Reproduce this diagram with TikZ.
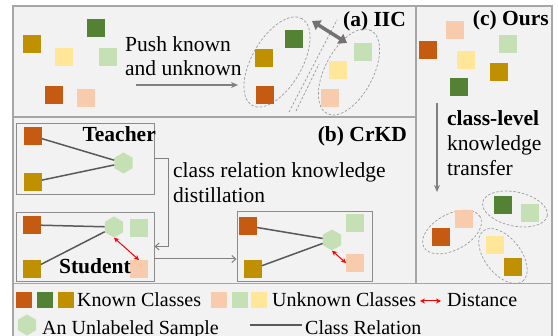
\documentclass[tikz,border=0pt]{standalone}
\usepackage{fontspec}
\setmainfont{Liberation Serif}
\usetikzlibrary{arrows.meta,shapes.geometric,calc}
\definecolor{cDO}{HTML}{C55A11}
\definecolor{cGR}{HTML}{548235}
\definecolor{cDY}{HTML}{BF9000}
\definecolor{cPE}{HTML}{F8CBAD}
\definecolor{cLG}{HTML}{C5E0B4}
\definecolor{cLY}{HTML}{FFE699}
\definecolor{cBG}{HTML}{F2F2F2}
\definecolor{cFR}{HTML}{A6A6A6}
\definecolor{cBX}{HTML}{8C8C8C}
\definecolor{cRL}{HTML}{595959}
\definecolor{cAR}{HTML}{808080}
\definecolor{cTH}{HTML}{767171}
\definecolor{cDS}{HTML}{9A9A9A}
\begin{document}
\begin{tikzpicture}[x=1pt,y=-1pt,
  sq/.style={draw=none,fill=#1,minimum size=17.5pt,inner sep=0pt},
  lsq/.style={sq=#1,minimum size=16.5pt},
  hexa/.style={regular polygon,regular polygon sides=6,shape border rotate=30,
    fill=cLG,draw=none,minimum size=21pt,inner sep=0pt},
  txt/.style={font=\fontsize{21.5}{25}\selectfont,inner sep=0pt},
  btxt/.style={font=\fontsize{21.5}{25}\selectfont\bfseries,inner sep=0pt},
  ltxt/.style={font=\fontsize{20}{24}\selectfont,inner sep=0pt},
  grp/.style={ellipse,draw=cDS,line width=0.7pt,dash pattern=on 2.5pt off 1.8pt,inner sep=0pt},
  sepline/.style={draw=cDS,line width=0.7pt,dash pattern=on 2.5pt off 1.8pt},
  box/.style={draw=cBX,line width=0.9pt,fill=none,inner sep=0pt},
  rel/.style={draw=cRL,line width=1.5pt},
  conn/.style={draw=cAR,line width=1pt,-{Straight Barb[length=4pt,width=7pt]}},
  bigarrow/.style={draw=cAR,line width=1.2pt,-{Stealth[length=7pt,width=6pt]}},
  dist/.style={draw=red,line width=1pt,{Stealth[length=5pt,width=5pt]}-{Stealth[length=5pt,width=5pt]}},
  frame/.style={draw=cFR,line width=1.1pt}]
\useasboundingbox (0,0) rectangle (558,336);
% background and frame
\fill[cBG] (13,6) rectangle (552,336);
\draw[frame] (13,340) -- (13,6) -- (552,6) -- (552,340);
\draw[frame] (13,117) -- (416,117);
\draw[frame] (416,6) -- (416,283.5);
\draw[frame] (13,283.5) -- (552,283.5);

% ---------- panel (a)
\node[sq=cDY] (a1) at (32,44) {};
\node[sq=cGR] (a2) at (96,28) {};
\node[sq=cLY] (a3) at (64,57) {};
\node[sq=cLG] (a4) at (108,57) {};
\node[sq=cDO] (a5) at (54,95) {};
\node[sq=cPE] (a6) at (86,98) {};
\node[txt,anchor=base west] (push1) at (125,52) {Push known};
\node[txt,anchor=base west] (push2) at (125,76) {and unknown};
\node[btxt,anchor=base east] (ta) at (406,27) {(a) IIC};

\node[grp,minimum width=100pt,minimum height=50pt,rotate=60] (gl) at (277,62) {};
\node[grp,minimum width=94pt,minimum height=48pt,rotate=62] (gr) at (349,72) {};
\coordinate (ps) at (136,85);
\coordinate (pe) at (238,85);
\draw[bigarrow] (ps) -- (pe);
\coordinate (d1a) at (289,112);
\coordinate (d1b) at (337,20);
\coordinate (d2a) at (296,111);
\coordinate (d2b) at (319,64);
\draw[sepline] (d1a) -- (d1b);
\draw[sepline] (d2a) -- (d2b);
\node[sq=cGR] (l1) at (294,39) {};
\node[sq=cDY] (l2) at (264,58) {};
\node[sq=cDO] (l3) at (265,95) {};
\node[sq=cLG] (r1) at (363,52) {};
\node[sq=cLY] (r2) at (338,70) {};
\node[sq=cPE] (r3) at (330,98) {};
\coordinate (th1) at (312,21);
\coordinate (th2) at (347,43);
\draw[draw=cTH,line width=3.5pt,{Triangle[length=8pt,width=11pt]}-{Triangle[length=8pt,width=11pt]}] (th1) -- (th2);

% ---------- panel (b)
\node[btxt,anchor=base east] (tb) at (407,142) {(b) CrKD};
\node[box,minimum width=138pt,minimum height=71pt] (teach) at (85,158.5) {};
\node[box,minimum width=138pt,minimum height=69pt] (stud) at (85,246.5) {};
\node[box,minimum width=135pt,minimum height=70pt] (third) at (304.5,246) {};

\node[sq=cDO] (t1) at (33,136) {};
\node[sq=cDY] (t2) at (33,182) {};
\node[hexa] (th) at (123.5,163) {};
\draw[rel] (t1) -- (th);
\draw[rel] (t2) -- (th);
\node[btxt,anchor=base east] (tlab) at (156,142) {Teacher};

\node[sq=cDO] (s1) at (32,225) {};
\node[sq=cDY] (s2) at (32,269) {};
\node[hexa] (sh) at (114,227) {};
\node[sq=cLG] (s3) at (139,228) {};
\node[sq=cPE] (s4) at (139,269) {};
\draw[rel] (s1) -- (sh);
\draw[rel] (s2) -- (sh);
\draw[dist] (sh.south) -- (s4.north);
\node[btxt,anchor=base east] (slab) at (131,274) {Student};

\node[sq=cDO] (u1) at (248,226) {};
\node[sq=cDY] (u2) at (253,269) {};
\node[hexa] (uh) at (332,240) {};
\node[sq=cLG] (u3) at (355,223) {};
\node[sq=cPE] (u4) at (355,263) {};
\draw[rel] (u1) -- (uh);
\draw[rel] (u2) -- (uh);
\draw[dist] (uh.south) -- (u4.west);

\draw[conn] (teach.east) -- ++(14,0) |- (stud.east);
\draw[conn] ($(stud.east)+(0,12.5)$) -- ($(third.west)+(0,13)$);
\node[txt,anchor=base west] (crk1) at (173,178) {class relation knowledge};
\node[txt,anchor=base west] (crk2) at (173,203) {distillation};

% ---------- panel (c)
\node[btxt,anchor=base east] (tc) at (549,26) {(c) Ours};
\node[sq=cPE] (c1) at (455,30) {};
\node[sq=cDO] (c2) at (428,50) {};
\node[sq=cLG] (c3) at (508,44) {};
\node[sq=cLY] (c4) at (466,60) {};
\node[sq=cDY] (c5) at (499,72) {};
\node[sq=cGR] (c6) at (459,87) {};
\coordinate (cs) at (437,103);
\coordinate (ce) at (437,192);
\draw[bigarrow] (cs) -- (ce);
\node[btxt,anchor=base west] (cl1) at (447,126) {class-level};
\node[txt,anchor=base west] (cl2) at (447,151) {knowledge};
\node[txt,anchor=base west] (cl3) at (447,176) {transfer};

\node[grp,minimum width=64pt,minimum height=36pt,rotate=28] (e1) at (452,232) {};
\node[grp,minimum width=66pt,minimum height=34pt,rotate=-12] (e2) at (515,209) {};
\node[grp,minimum width=64pt,minimum height=36pt,rotate=-52] (e3) at (503,256) {};
\node[sq=cPE] (g1) at (464,219) {};
\node[sq=cDO] (g2) at (441,237) {};
\node[sq=cGR] (g3) at (503,205) {};
\node[sq=cLG] (g4) at (530,213) {};
\node[sq=cLY] (g5) at (495,245) {};
\node[sq=cDY] (g6) at (513,267) {};

% ---------- legend
\node[lsq=cDO] (k1) at (24,300) {};
\node[lsq=cGR] (k2) at (45,300) {};
\node[lsq=cDY] (k3) at (66,300) {};
\node[ltxt,anchor=base west] (kt) at (77,307) {Known Classes};
\node[lsq=cPE] (n1) at (219,300) {};
\node[lsq=cLG] (n2) at (240,300) {};
\node[lsq=cLY] (n3) at (259,300) {};
\node[ltxt,anchor=base west] (nt) at (272,307) {Unknown Classes};
\coordinate (da) at (420,301);
\coordinate (db) at (441,301);
\draw[dist] (da) -- (db);
\node[ltxt,anchor=base west] (dt) at (447,307) {Distance};
\node[hexa] (lh) at (27,325) {};
\node[ltxt,anchor=base west] (ht) at (42,334.5) {An Unlabeled Sample};
\coordinate (ra) at (250,325);
\coordinate (rb) at (302,325);
\draw[rel] (ra) -- (rb);
\node[ltxt,anchor=base west] (rt) at (305,334.5) {Class Relation};
\end{tikzpicture}
\end{document}
